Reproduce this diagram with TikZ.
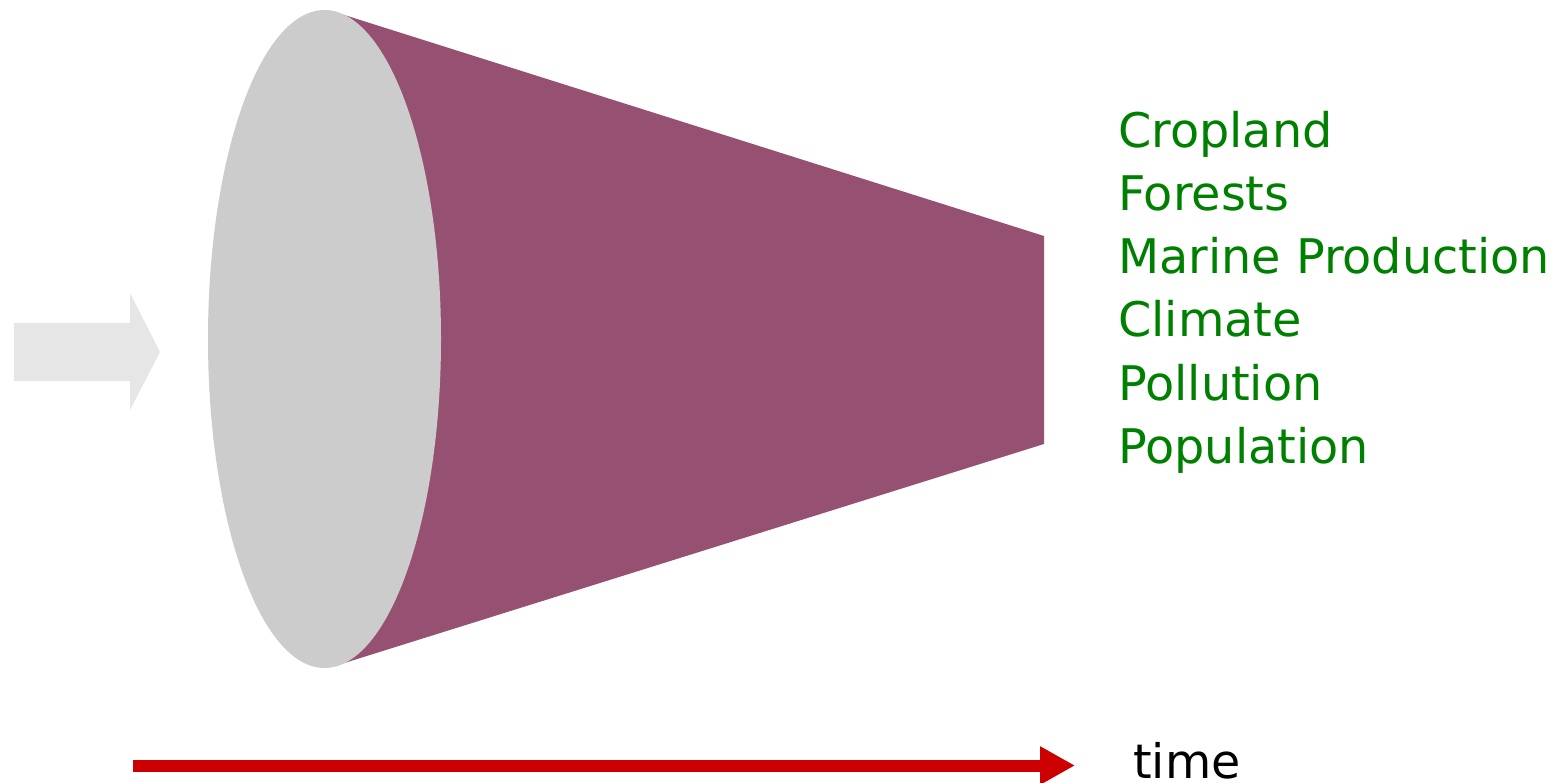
\documentclass[tikz,border=0pt]{standalone}
\usepackage{fontspec}
\setmainfont{DejaVu Sans}
\usetikzlibrary{arrows.meta}
\definecolor{conecol}{RGB}{150,81,114}
\definecolor{disccol}{RGB}{204,204,204}
\definecolor{inarrowcol}{RGB}{230,230,230}
\definecolor{timecol}{RGB}{204,0,0}
\definecolor{labelcol}{RGB}{0,128,0}
\begin{document}
\begin{tikzpicture}[x=1pt,y=-1pt,
  factor/.style={anchor=base west, inner sep=0pt, text=labelcol, font=\fontsize{47.7}{57}\selectfont},
  timelabel/.style={anchor=base west, inner sep=0pt, text=black, font=\fontsize{47.5}{57}\selectfont},
  timearrow/.style={draw=timecol, line width=12pt, -{Triangle[length=35pt,width=36pt]}}]
\useasboundingbox (0,0) rectangle (1557,783);
% cone body
\fill[conecol] (338,13) -- (1044,236) -- (1044,444) -- (338,665) -- (324.5,668) -- (324.5,10) -- cycle;
% disc
\fill[disccol] (324.5,339) ellipse [x radius=116.5, y radius=329];
% input arrow
\fill[inarrowcol] (14,323) -- (130,323) -- (130,293) -- (160,352) -- (130,410) -- (130,381) -- (14,381) -- cycle;
% labels
\node[factor] (l1) at (1118,148) {Cropland};
\node[factor] (l2) at (1118,211) {Forests};
\node[factor] (l3) at (1118,274) {Marine Production};
\node[factor] (l4) at (1118,337) {Climate};
\node[factor] (l5) at (1118,400) {Pollution};
\node[factor] (l6) at (1118,463) {Population};
% time arrow
\coordinate (ts) at (133,765.5);
\coordinate (te) at (1075,765.5);
\draw[timearrow] (ts) -- (te);
\node[timelabel] (tl) at (1133,778.5) {time};
\end{tikzpicture}
\end{document}
